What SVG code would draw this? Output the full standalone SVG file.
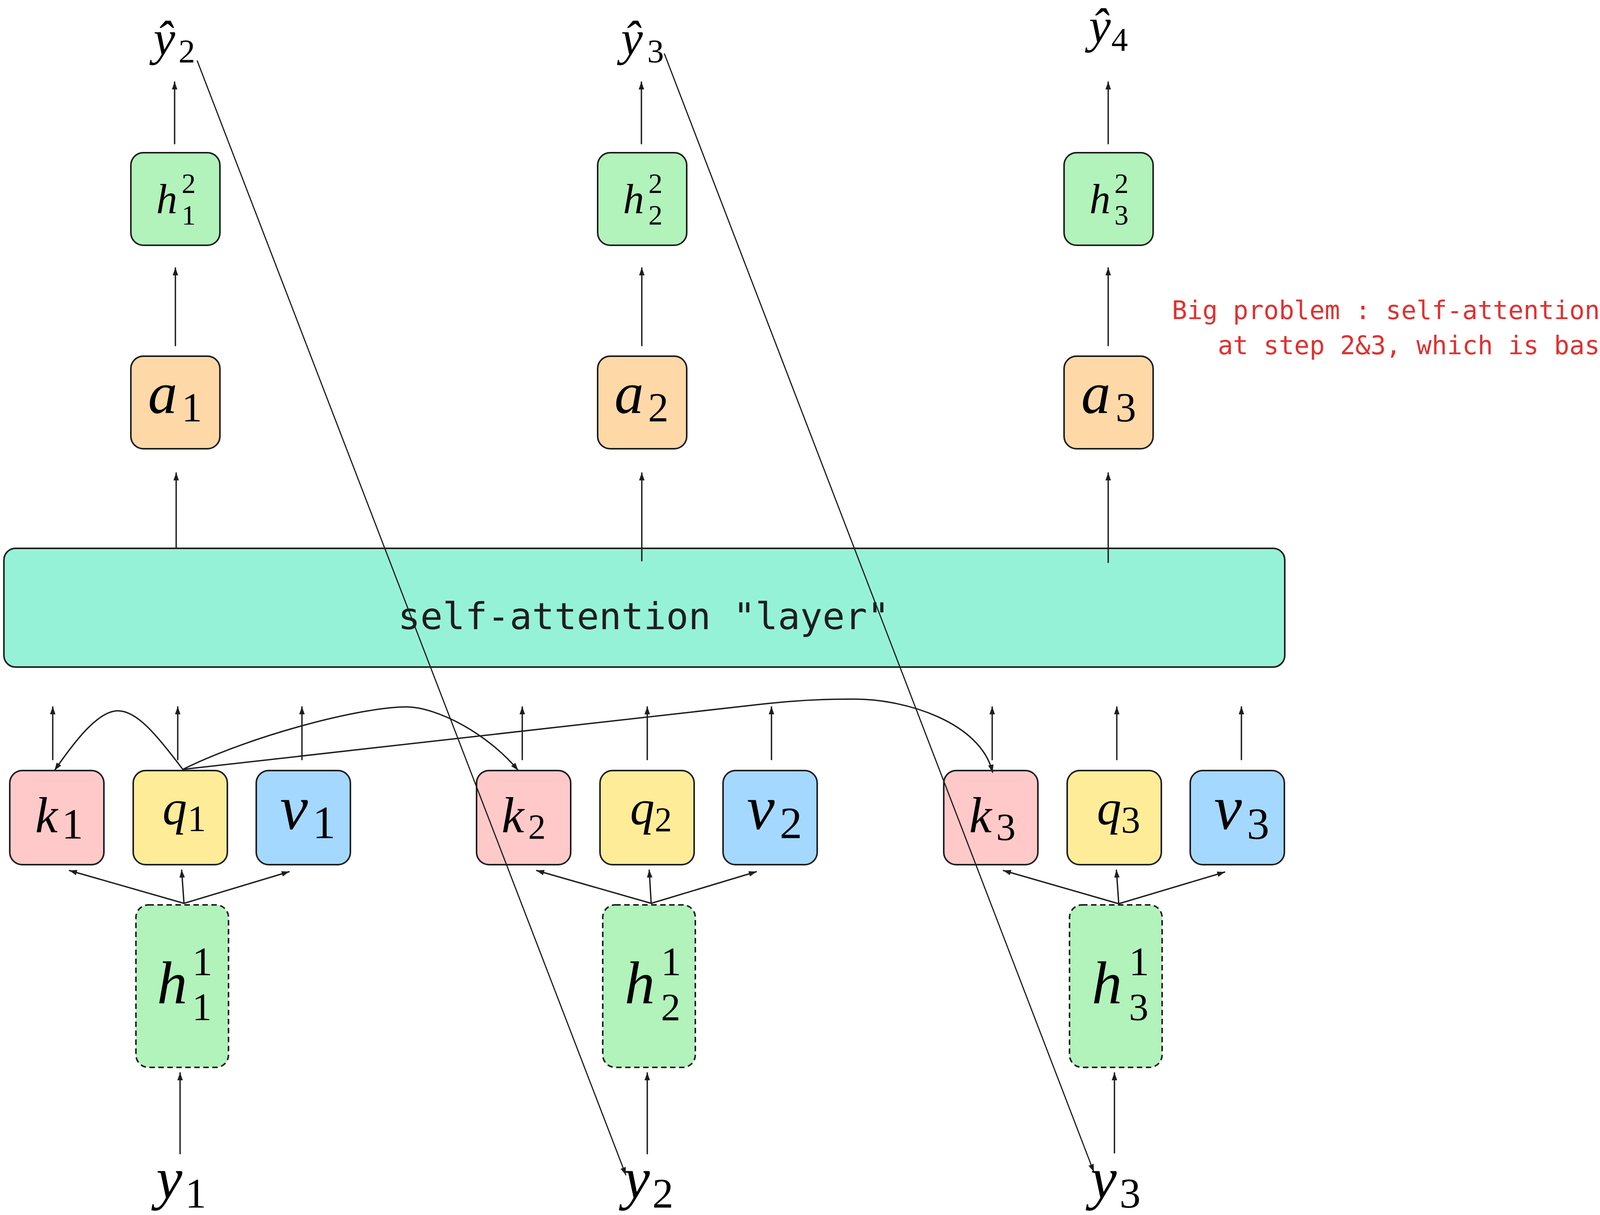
<svg xmlns="http://www.w3.org/2000/svg" width="5367" height="3111" viewBox="0 0 5367 3111">
<style>
.box{stroke:#1e1e1e;stroke-width:4}
.g{fill:#b2f2bb}.o{fill:#ffd8a8}.k{fill:#ffc9c9}.q{fill:#ffec99}.v{fill:#a5d8ff}.t{fill:#96f2d7}
.dash{stroke-dasharray:14 9}
.m{font-family:"Liberation Serif","DejaVu Serif",serif;font-style:italic;fill:#000}
.n{font-family:"Liberation Serif","DejaVu Serif",serif;font-style:normal;fill:#000}
.c{stroke:#1e1e1e;stroke-width:3.5;fill:none;stroke-linecap:round;marker-end:url(#ah)}
.d{stroke:#1e1e1e;stroke-width:3;fill:none;stroke-linecap:round;marker-end:url(#ah)}
.mono{font-family:"DejaVu Sans Mono","Liberation Mono",monospace}
</style>
<defs>
<marker id="ah" viewBox="0 0 20 14" refX="19" refY="7" markerWidth="20" markerHeight="14" markerUnits="userSpaceOnUse" orient="auto"><path d="M0,0 L20,7 L0,14 Z" fill="#1e1e1e"/></marker>
</defs>
<rect width="5367" height="3111" fill="#ffffff"/>

<!-- output labels -->
<g id="yhat2"><text class="m" font-size="125"><tspan x="393" y="140">ŷ</tspan><tspan class="n" font-size="85" x="457" y="160">2</tspan></text></g>
<g id="yhat3"><text class="m" font-size="125"><tspan x="1590" y="140">ŷ</tspan><tspan class="n" font-size="85" x="1657" y="160">3</tspan></text></g>
<g id="yhat4"><text class="m" font-size="125"><tspan x="2788" y="108">ŷ</tspan><tspan class="n" font-size="85" x="2845" y="130">4</tspan></text></g>

<!-- h^2 nodes -->
<g id="h2_1"><rect class="box g" x="335" y="391" width="228" height="237" rx="32"/><text class="m" font-size="108" x="400" y="546">h</text><text class="n" font-size="72" x="465" y="494">2</text><text class="n" font-size="72" x="465" y="575">1</text></g>
<g id="h2_2"><rect class="box g" x="1530" y="391" width="228" height="237" rx="32"/><text class="m" font-size="108" x="1595" y="546">h</text><text class="n" font-size="72" x="1660" y="494">2</text><text class="n" font-size="72" x="1660" y="575">2</text></g>
<g id="h2_3"><rect class="box g" x="2724" y="391" width="228" height="237" rx="32"/><text class="m" font-size="108" x="2789" y="546">h</text><text class="n" font-size="72" x="2853" y="494">2</text><text class="n" font-size="72" x="2853" y="575">3</text></g>

<!-- a nodes -->
<g id="a1"><rect class="box o" x="335" y="912" width="228" height="237" rx="32"/><text class="m" font-size="150"><tspan x="379" y="1057">a</tspan><tspan class="n" font-size="105" x="465" y="1079">1</tspan></text></g>
<g id="a2"><rect class="box o" x="1530" y="912" width="228" height="237" rx="32"/><text class="m" font-size="150"><tspan x="1573" y="1057">a</tspan><tspan class="n" font-size="105" x="1659" y="1079">2</tspan></text></g>
<g id="a3"><rect class="box o" x="2724" y="912" width="228" height="237" rx="32"/><text class="m" font-size="150"><tspan x="2768" y="1057">a</tspan><tspan class="n" font-size="105" x="2856" y="1079">3</tspan></text></g>

<!-- self-attention layer -->
<g id="layer"><rect class="box t" x="10" y="1404" width="3279" height="304" rx="30"/><text class="mono" font-size="95" fill="#1e1e1e" x="1648" y="1611" text-anchor="middle">self-attention "layer"</text></g>

<!-- k q v nodes -->
<g id="k1"><rect class="box k" x="25" y="1973" width="241" height="241" rx="32"/><text class="m" font-size="130"><tspan x="90" y="2131">k</tspan><tspan class="n" font-size="110" x="158" y="2147">1</tspan></text></g>
<g id="q1"><rect class="box q" x="341" y="1973" width="241" height="241" rx="32"/><text class="m" font-size="125"><tspan x="416" y="2110">q</tspan><tspan class="n" font-size="95" x="480" y="2128">1</tspan></text></g>
<g id="v1"><rect class="box v" x="656" y="1973" width="241" height="241" rx="32"/><text class="m" font-size="160"><tspan x="717" y="2122">v</tspan><tspan class="n" font-size="118" x="800" y="2146">1</tspan></text></g>
<g id="k2"><rect class="box k" x="1220" y="1973" width="241" height="241" rx="32"/><text class="m" font-size="130"><tspan x="1284" y="2131">k</tspan><tspan class="n" font-size="90" x="1352" y="2148">2</tspan></text></g>
<g id="q2"><rect class="box q" x="1536" y="1973" width="241" height="241" rx="32"/><text class="m" font-size="125"><tspan x="1613" y="2110">q</tspan><tspan class="n" font-size="88" x="1676" y="2128">2</tspan></text></g>
<g id="v2"><rect class="box v" x="1851" y="1973" width="241" height="241" rx="32"/><text class="m" font-size="160"><tspan x="1912" y="2122">v</tspan><tspan class="n" font-size="115" x="1996" y="2146">2</tspan></text></g>
<g id="k3"><rect class="box k" x="2416" y="1973" width="241" height="241" rx="32"/><text class="m" font-size="130"><tspan x="2481" y="2131">k</tspan><tspan class="n" font-size="100" x="2550" y="2151">3</tspan></text></g>
<g id="q3"><rect class="box q" x="2732" y="1973" width="241" height="241" rx="32"/><text class="m" font-size="125"><tspan x="2808" y="2110">q</tspan><tspan class="n" font-size="98" x="2870" y="2132">3</tspan></text></g>
<g id="v3"><rect class="box v" x="3047" y="1973" width="241" height="241" rx="32"/><text class="m" font-size="160"><tspan x="3108" y="2122">v</tspan><tspan class="n" font-size="115" x="3192" y="2148">3</tspan></text></g>

<!-- h^1 nodes -->
<g id="h1_1"><rect class="box g dash" x="348" y="2317" width="237" height="416" rx="32"/><text class="m" font-size="155" x="402" y="2569">h</text><text class="n" font-size="104" x="492" y="2497">1</text><text class="n" font-size="100" x="492" y="2612">1</text></g>
<g id="h1_2"><rect class="box g dash" x="1543" y="2317" width="237" height="416" rx="32"/><text class="m" font-size="155" x="1599" y="2569">h</text><text class="n" font-size="104" x="1692" y="2497">1</text><text class="n" font-size="100" x="1692" y="2612">2</text></g>
<g id="h1_3"><rect class="box g dash" x="2738" y="2317" width="237" height="416" rx="32"/><text class="m" font-size="155" x="2795" y="2569">h</text><text class="n" font-size="104" x="2890" y="2497">1</text><text class="n" font-size="100" x="2890" y="2612">3</text></g>

<!-- input labels -->
<g id="y1"><text class="m" font-size="150"><tspan x="400" y="3068">y</tspan><tspan class="n" font-size="108" x="474" y="3092">1</tspan></text></g>
<g id="y2"><text class="m" font-size="150"><tspan x="1597" y="3068">y</tspan><tspan class="n" font-size="108" x="1670" y="3092">2</tspan></text></g>
<g id="y3"><text class="m" font-size="150"><tspan x="2792" y="3068">y</tspan><tspan class="n" font-size="108" x="2866" y="3092">3</tspan></text></g>

<!-- note -->
<g id="note"><text class="mono" font-size="65" fill="#e03131" text-anchor="middle"><tspan x="4174" y="817">Big problem : self-attention at step 1 can look at the value</tspan><tspan x="4174" y="907">at step 2&amp;3, which is based on the inputs at steps 2&amp;3</tspan></text></g>

<!-- connectors -->
<g id="connectors">
<line class="c" x1="447" y1="368" x2="447" y2="210"/>
<line class="c" x1="1642" y1="368" x2="1642" y2="210"/>
<line class="c" x1="2837" y1="368" x2="2837" y2="210"/>
<line class="c" x1="449" y1="885" x2="449" y2="686"/>
<line class="c" x1="1643" y1="885" x2="1643" y2="686"/>
<line class="c" x1="2837" y1="885" x2="2837" y2="686"/>
<line class="c" x1="451" y1="1404" x2="451" y2="1211"/>
<line class="c" x1="1643" y1="1436" x2="1643" y2="1211"/>
<line class="c" x1="2837" y1="1440" x2="2837" y2="1211"/>

<line class="c" x1="135" y1="1945" x2="135" y2="1810"/>
<line class="c" x1="455" y1="1945" x2="455" y2="1810"/>
<line class="c" x1="773" y1="1945" x2="773" y2="1810"/>
<line class="c" x1="1337" y1="1945" x2="1337" y2="1810"/>
<line class="c" x1="1657" y1="1945" x2="1657" y2="1810"/>
<line class="c" x1="1975" y1="1945" x2="1975" y2="1810"/>
<line class="c" x1="2540" y1="1945" x2="2540" y2="1810"/>
<line class="c" x1="2859" y1="1945" x2="2859" y2="1810"/>
<line class="c" x1="3178" y1="1945" x2="3178" y2="1810"/>

<line class="c" x1="471" y1="2313" x2="178" y2="2229"/>
<line class="c" x1="471" y1="2313" x2="465" y2="2228"/>
<line class="c" x1="471" y1="2313" x2="740" y2="2232"/>
<line class="c" x1="1667" y1="2313" x2="1374" y2="2229"/>
<line class="c" x1="1667" y1="2313" x2="1662" y2="2228"/>
<line class="c" x1="1667" y1="2313" x2="1936" y2="2232"/>
<line class="c" x1="2864" y1="2314" x2="2569" y2="2229"/>
<line class="c" x1="2864" y1="2314" x2="2858" y2="2228"/>
<line class="c" x1="2864" y1="2314" x2="3135" y2="2233"/>

<line class="c" x1="461" y1="2954" x2="461" y2="2747"/>
<line class="c" x1="1657" y1="2954" x2="1657" y2="2747"/>
<line class="c" x1="2853" y1="2952" x2="2853" y2="2747"/>

<path class="c" d="M468,1970 C400,1880 350,1820 302,1820 C250,1820 190,1900 140,1972"/>
<path class="c" d="M468,1970 C650,1880 930,1810 1039,1810 C1120,1810 1250,1880 1326,1972"/>
<path class="c" d="M468,1970 L1950,1803 C2050,1792 2120,1790 2188,1790 C2320,1790 2510,1850 2541,1977"/>

<line class="d" x1="505" y1="156" x2="1602" y2="3008"/>
<line class="d" x1="1701" y1="138" x2="2800" y2="3000"/>
</g>
</svg>
